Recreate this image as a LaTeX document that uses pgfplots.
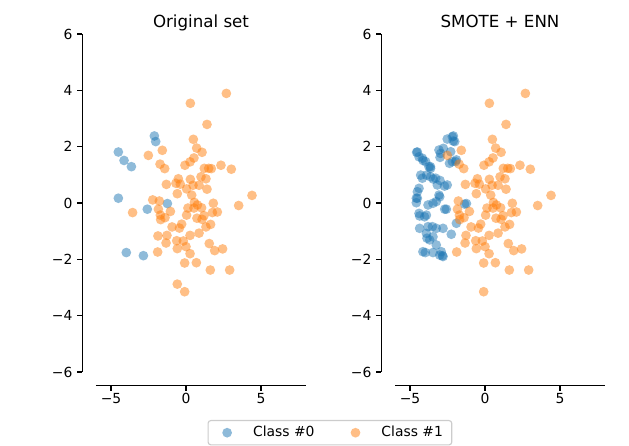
\documentclass[border=0pt]{standalone}
\usepackage{fontspec}
\setmainfont{DejaVu Sans}
\usepackage{pgfplots}
\pgfplotsset{compat=1.18}
\usepackage{pgfplotstable}
\definecolor{c0}{HTML}{1F77B4}
\definecolor{c1}{HTML}{FF7F0E}

\pgfplotstableread{
x y
-2.11 2.38
-2.02 2.18
-4.51 1.81
-4.13 1.51
-3.64 1.29
-4.51 0.17
-2.58 -0.22
-1.24 -0.02
-3.98 -1.76
-2.84 -1.87
}\blueorig

\pgfplotstableread{
x y
2.69 3.89
0.29 3.54
1.40 2.79
0.49 2.26
0.71 1.95
1.07 1.80
-1.58 1.87
-2.51 1.69
0.53 1.60
0.27 1.46
-0.07 1.34
-1.73 1.38
-1.42 1.22
1.22 1.23
1.51 1.23
1.69 1.22
2.33 1.34
3.02 1.20
-0.51 0.86
0.29 0.84
1.00 0.93
1.33 0.86
-1.31 0.66
-0.67 0.70
-0.38 0.67
0.04 0.50
0.47 0.63
0.87 0.63
1.40 0.49
-0.58 0.33
0.38 0.28
4.40 0.27
-1.78 0.07
0.56 0.02
0.76 -0.07
1.82 -0.01
3.51 -0.09
-1.84 -0.22
0.13 -0.18
0.53 -0.18
1.04 -0.17
-1.71 -0.43
-1.04 -0.30
0.04 -0.43
1.20 -0.45
1.76 -0.34
2.09 -0.32
-1.69 -0.59
-1.40 -0.52
0.73 -0.54
1.07 -0.58
-0.93 -0.85
-0.29 -0.75
-0.44 -0.89
1.33 -0.85
1.64 -0.76
0.87 -1.07
0.27 -1.15
-1.27 -1.15
-1.33 -1.42
-0.62 -1.34
-0.18 -1.35
1.55 -1.44
-0.58 -1.62
0.00 -1.55
1.91 -1.69
2.44 -1.63
-1.89 -1.74
0.27 -1.80
-0.09 -2.13
0.69 -2.12
1.62 -2.38
2.91 -2.38
-0.09 -3.15
}\orangekept

\pgfplotstableread{
x y
-3.56 -0.34
-0.58 -2.88
-2.22 0.11
-1.87 -1.17
}\orangedropped

\pgfplotstableread{
x y
-2.18 2.35
-2.12 2.20
-2.52 2.27
-4.56 1.80
-4.40 1.64
-4.18 1.59
-3.96 1.47
-3.74 1.29
-3.63 1.23
-3.07 1.88
-2.96 1.76
-2.78 1.94
-3.00 1.62
-2.29 1.82
-2.18 1.47
-1.96 1.47
-2.37 1.41
-1.91 1.53
-4.29 0.99
-4.18 0.88
-3.89 0.99
-3.63 0.93
-3.29 0.88
-3.45 0.85
-3.00 0.80
-3.18 0.64
-2.52 0.64
-2.70 0.60
-4.40 0.52
-4.51 0.40
-4.58 0.17
-4.58 0.01
-4.40 -0.37
-4.36 -0.46
-4.03 -0.49
-3.91 -0.43
-3.80 -0.07
-3.47 -0.01
-3.25 0.05
-3.02 0.22
-3.07 0.28
-2.69 -0.22
-1.36 -0.04
-1.91 -0.72
-4.36 -0.90
-3.80 -0.84
-3.51 -0.84
-3.91 -1.08
-3.87 -1.25
-3.69 -1.31
-3.25 -0.90
-2.80 -0.90
-3.47 -1.20
-2.25 -1.11
-3.25 -1.49
-4.14 -1.73
-3.47 -1.76
-2.92 -1.73
-3.02 -1.85
-2.80 -1.90
}\bluesm

\pgfplotsset{
  myaxis/.style={
    scale only axis, width=151.2pt, height=243.36pt,
    xmin=-6, xmax=8, ymin=-6, ymax=6,
    axis x line*=bottom, axis y line*=left,
    separate axis lines,
    x axis line style={yshift=-10pt, -, line width=0.8pt},
    y axis line style={xshift=-10pt, -, line width=0.8pt},
    xtick={-5,0,5}, xticklabels={−5,0,5},
    ytick={-6,-4,-2,0,2,4,6}, yticklabels={−6,−4,−2,0,2,4,6},
    xtick align=outside, ytick align=outside,
    major tick length=3.5pt,
    xtick style={yshift=-10pt, line width=0.8pt, black},
    ytick style={xshift=-10pt, line width=0.8pt, black},
    xticklabel style={yshift=-8pt},
    yticklabel style={xshift=-10pt},
    tick label style={font=\fontsize{10}{12}\selectfont},
    title style={font=\fontsize{12}{14}\selectfont, at={(0.5,1)}, anchor=base, yshift=-1pt},
    clip=false,
  },
  blues/.style={only marks, mark=*, mark size=3.5pt, color=c0, mark options={fill=c0, fill opacity=0.5, draw opacity=0}},
  oranges/.style={only marks, mark=*, mark size=3.5pt, color=c1, mark options={fill=c1, fill opacity=0.5, draw opacity=0}},
}

\begin{document}
\begin{tikzpicture}
\path[use as bounding box] (-69.12pt,-53.28pt) rectangle (383.76pt,267.84pt);
\begin{axis}[myaxis, at={(0pt,0pt)}, anchor=south west, title={Original set},
  legend columns=2,
  legend image code/.code={\path[draw=none] (0pt,0pt) -- (26pt,0pt); \draw[#1] plot coordinates {(10pt,0pt)};},
  legend style={at={(1.114,-0.142)}, anchor=north, draw=black!20, line width=0.8pt,
    rounded corners=2pt, font=\fontsize{10}{12}\selectfont,
    inner xsep=3.7pt, inner ysep=1.5pt,
    nodes={inner sep=2.7pt},
    /tikz/every even column/.append style={column sep=16.8pt}},
]
\addplot[blues] table {\blueorig};
\addlegendentry{Class \#0}
\addplot[oranges] table {\orangekept};
\addlegendentry{Class \#1}
\addplot[oranges, forget plot] table {\orangedropped};
\end{axis}
\begin{axis}[myaxis, at={(215.3pt,0pt)}, anchor=south west, title={SMOTE + ENN}]
\addplot[blues] table {\blueorig};
\addplot[blues] table {\bluesm};
\addplot[oranges] table {\orangekept};
\end{axis}
\end{tikzpicture}
\end{document}
